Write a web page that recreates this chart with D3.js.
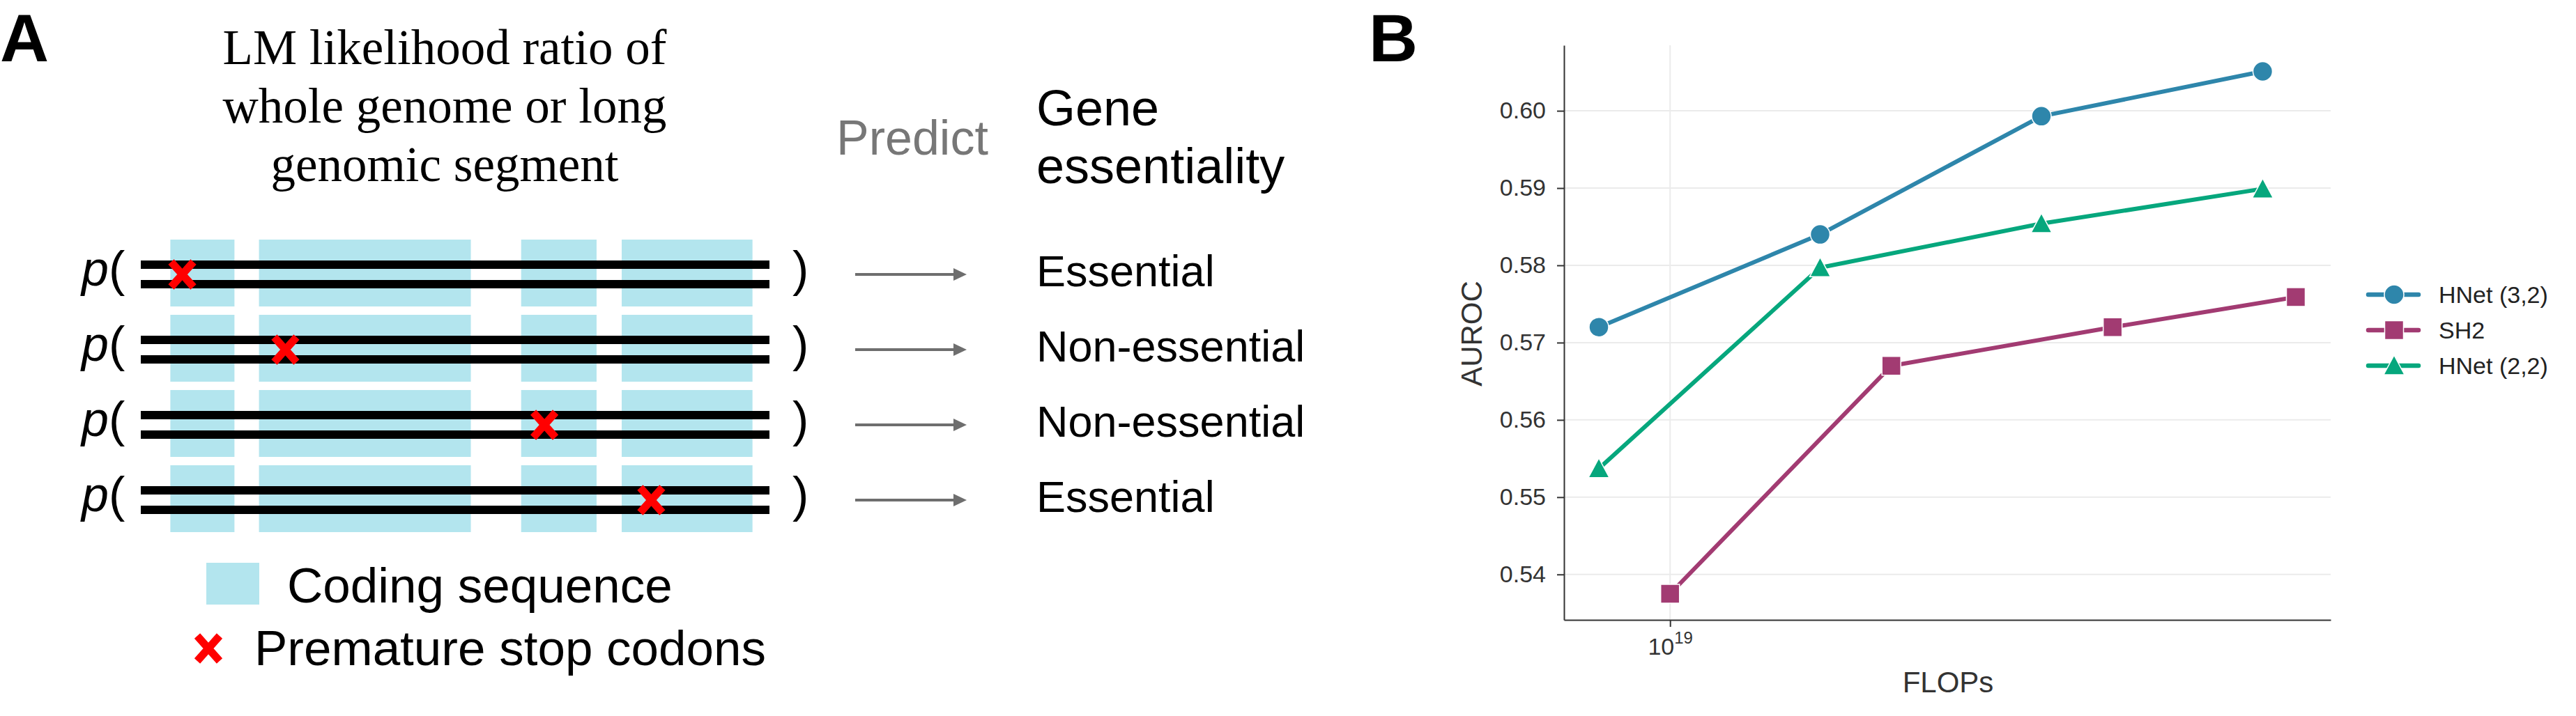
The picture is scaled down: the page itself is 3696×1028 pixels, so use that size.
<!DOCTYPE html>
<html>
<head>
<meta charset="utf-8">
<script src="https://cdn.jsdelivr.net/npm/d3@7"></script>
<style>
  body { margin: 0; background: #fff; }
  svg { display: block; font-family: "Liberation Sans", Arial, sans-serif; }
</style>
</head>
<body>
<div class="figure"></div>
<script>
const WIDTH = 3696;
const HEIGHT = 1028;

// panel A
var titleLines = ['LM likelihood ratio of', 'whole genome or long', 'genomic segment'];
var codingSegments = [[4.7, 14.9], [18.8, 52.5], [60.5, 72.5], [76.5, 97.3]];
var stopPositions = [6.6, 23.0, 64.2, 81.2];
var essentiality = ['Essential', 'Non-essential', 'Non-essential', 'Essential'];

// panel B
var seriesNames = ['HNet (3,2)', 'SH2', 'HNet (2,2)'];
var flopsHNet32 = [8e18, 1.6e19, 3.2e19, 6.4e19];
var aurocHNet32 = [0.572, 0.584, 0.5993, 0.6051];
var flopsSH2 = [1e19, 2e19, 4e19, 7.1e19];
var aurocSH2 = [0.5375, 0.567, 0.572, 0.5759];
var flopsHNet22 = [8e18, 1.6e19, 3.2e19, 6.4e19];
var aurocHNet22 = [0.5537, 0.5797, 0.5854, 0.5899];
var yTicks = [0.54, 0.55, 0.56, 0.57, 0.58, 0.59, 0.60];
var xTicks = [1e19];

var colors = ['#2e86ab', '#a23b72', '#06a77d'];
var shapes = ['circle', 'square', 'triangle'];

var svg = d3.select('.figure').append('svg')
    .attr('width', WIDTH)
    .attr('height', HEIGHT);
svg.append('rect').attr('width', WIDTH).attr('height', HEIGHT).attr('fill', '#fff');

// ---------- panel A ----------
var genomeScale = d3.scaleLinear().domain([0, 100]).range([202, 1104]);
var rowScale = d3.scalePoint().domain(d3.range(essentiality.length)).range([394, 718]);

function drawCross(g, cx, cy) {
    g.append('path')
        .attr('d', 'M' + (cx - 16) + ',' + (cy - 18) + 'L' + (cx + 16) + ',' + (cy + 18) +
            'M' + (cx + 16) + ',' + (cy - 18) + 'L' + (cx - 16) + ',' + (cy + 18))
        .attr('stroke', '#ff0000')
        .attr('stroke-width', 11)
        .attr('fill', 'none');
}

function drawPanelA() {
    var g = svg.append('g');

    g.append('text').attr('x', 0).attr('y', 88)
        .attr('font-size', 97).attr('font-weight', 'bold').text('A');

    g.selectAll('.title').data(titleLines).enter().append('text')
        .attr('x', 638)
        .attr('y', function (d, i) { return 92 + i * 84; })
        .attr('text-anchor', 'middle')
        .attr('font-family', '"Liberation Serif", "DejaVu Serif", serif')
        .attr('font-size', 71)
        .text(function (d) { return d; });

    g.append('text').attr('x', 1200).attr('y', 222)
        .attr('font-size', 70).attr('fill', '#777').text('Predict');
    g.append('text').attr('x', 1487).attr('y', 180).attr('font-size', 72).text('Gene');
    g.append('text').attr('x', 1487).attr('y', 263).attr('font-size', 72).text('essentiality');

    var rows = g.selectAll('.row').data(essentiality).enter().append('g')
        .attr('class', 'row');

    rows.each(function (label, i) {
        var row = d3.select(this);
        var cy = rowScale(i);

        row.selectAll('rect').data(codingSegments).enter().append('rect')
            .attr('x', function (d) { return genomeScale(d[0]); })
            .attr('width', function (d) { return genomeScale(d[1]) - genomeScale(d[0]); })
            .attr('y', cy - 50)
            .attr('height', 96)
            .attr('fill', '#b3e5ee');

        [-14, 14].forEach(function (off) {
            row.append('rect')
                .attr('x', genomeScale(0))
                .attr('width', genomeScale(100) - genomeScale(0))
                .attr('y', cy + off - 6)
                .attr('height', 12)
                .attr('fill', '#000');
        });

        drawCross(row, genomeScale(stopPositions[i]), cy);

        var p = row.append('text').attr('x', 117).attr('y', cy + 16).attr('font-size', 70);
        p.append('tspan').attr('font-style', 'italic').text('p');
        p.append('tspan').text('(');
        row.append('text').attr('x', 1137).attr('y', cy + 16).attr('font-size', 70).text(')');

        row.append('line')
            .attr('x1', 1227).attr('x2', 1372)
            .attr('y1', cy).attr('y2', cy)
            .attr('stroke', '#6e6e6e').attr('stroke-width', 4);
        row.append('path')
            .attr('d', 'M1368,' + (cy - 9) + 'L1387,' + cy + 'L1368,' + (cy + 9) + 'Z')
            .attr('fill', '#6e6e6e');

        row.append('text').attr('x', 1487).attr('y', cy + 17)
            .attr('font-size', 63).text(label);
    });

    g.append('rect').attr('x', 296).attr('y', 808).attr('width', 76).attr('height', 60)
        .attr('fill', '#b3e5ee');
    g.append('text').attr('x', 412).attr('y', 865).attr('font-size', 71).text('Coding sequence');
    drawCross(g, 299, 931);
    g.append('text').attr('x', 365).attr('y', 955).attr('font-size', 71).text('Premature stop codons');
}

// ---------- panel B ----------
function padLog(vals) {
    var lo = Math.log10(d3.min(vals));
    var hi = Math.log10(d3.max(vals));
    var p = (hi - lo) * 0.05;
    return [Math.pow(10, lo - p), Math.pow(10, hi + p)];
}

function padLinear(vals) {
    var lo = d3.min(vals);
    var hi = d3.max(vals);
    var p = (hi - lo) * 0.05;
    return [lo - p, hi + p];
}

var allFlops = flopsHNet32.concat(flopsSH2, flopsHNet22);
var allAuroc = aurocHNet32.concat(aurocSH2, aurocHNet22);

var xScale = d3.scaleLog().domain(padLog(allFlops)).range([2244, 3344]);
var yScale = d3.scaleLinear().domain(padLinear(allAuroc)).range([890, 65]);

var series = [
    { name: seriesNames[0], x: flopsHNet32, y: aurocHNet32 },
    { name: seriesNames[1], x: flopsSH2, y: aurocSH2 },
    { name: seriesNames[2], x: flopsHNet22, y: aurocHNet22 }
];

function drawMarker(g, shape, color, cx, cy) {
    if (shape === 'circle') {
        g.append('circle').attr('cx', cx).attr('cy', cy).attr('r', 14)
            .attr('fill', color).attr('stroke', '#fff').attr('stroke-width', 1.5);
    } else if (shape === 'square') {
        g.append('rect').attr('x', cx - 13.5).attr('y', cy - 13.5).attr('width', 27).attr('height', 27)
            .attr('fill', color).attr('stroke', '#fff').attr('stroke-width', 1.5);
    } else {
        g.append('path')
            .attr('d', 'M' + cx + ',' + (cy - 15) + 'L' + (cx + 15) + ',' + (cy + 13) + 'L' + (cx - 15) + ',' + (cy + 13) + 'Z')
            .attr('fill', color).attr('stroke', '#fff').attr('stroke-width', 1.5);
    }
}

function drawPanelB() {
    var g = svg.append('g');

    g.append('text').attr('x', 1964).attr('y', 88)
        .attr('font-size', 97).attr('font-weight', 'bold').text('B');

    var grid = g.append('g');
    grid.selectAll('.hgrid').data(yTicks).enter().append('line')
        .attr('x1', xScale.range()[0]).attr('x2', xScale.range()[1])
        .attr('y1', function (d) { return yScale(d); })
        .attr('y2', function (d) { return yScale(d); })
        .attr('stroke', '#ebebeb').attr('stroke-width', 2);
    grid.selectAll('.vgrid').data(xTicks).enter().append('line')
        .attr('x1', function (d) { return xScale(d); })
        .attr('x2', function (d) { return xScale(d); })
        .attr('y1', yScale.range()[1]).attr('y2', yScale.range()[0])
        .attr('stroke', '#ebebeb').attr('stroke-width', 2);

    var yAxis = d3.axisLeft(yScale).tickValues(yTicks).tickFormat(d3.format('.2f'))
        .tickSize(10).tickSizeOuter(0).tickPadding(16);
    var yAxisG = g.append('g').attr('transform', 'translate(' + xScale.range()[0] + ',0)').call(yAxis);

    var xAxis = d3.axisBottom(xScale).tickValues(xTicks).tickSize(10).tickSizeOuter(0);
    var xAxisG = g.append('g').attr('transform', 'translate(0,' + yScale.range()[0] + ')').call(xAxis);

    [yAxisG, xAxisG].forEach(function (ax) {
        ax.select('.domain').attr('stroke', '#333').attr('stroke-width', 2);
        ax.selectAll('.tick line').attr('stroke', '#333').attr('stroke-width', 2);
        ax.selectAll('.tick text').attr('fill', '#333').attr('font-size', 34)
            .attr('font-family', '"Liberation Sans", Arial, sans-serif');
    });

    xAxisG.selectAll('.tick text').text(null).attr('y', 50).attr('dy', null)
        .each(function () {
            var t = d3.select(this);
            t.append('tspan').text('10');
            t.append('tspan').attr('dy', -16).attr('font-size', 24).text('19');
        });

    g.append('text')
        .attr('transform', 'translate(2126,479) rotate(-90)')
        .attr('text-anchor', 'middle')
        .attr('font-size', 42).attr('fill', '#333').text('AUROC');
    g.append('text').attr('x', 2795).attr('y', 994)
        .attr('text-anchor', 'middle')
        .attr('font-size', 42).attr('fill', '#333').text('FLOPs');

    var line = d3.line()
        .x(function (d) { return xScale(d[0]); })
        .y(function (d) { return yScale(d[1]); });

    series.forEach(function (s, i) {
        var pts = d3.zip(s.x, s.y);
        var sg = g.append('g');
        sg.append('path').attr('d', line(pts))
            .attr('fill', 'none').attr('stroke', colors[i]).attr('stroke-width', 6)
            .attr('stroke-linejoin', 'round');
        pts.forEach(function (p) {
            drawMarker(sg, shapes[i], colors[i], xScale(p[0]), yScale(p[1]));
        });
    });

    var legend = g.append('g');
    series.forEach(function (s, i) {
        var ly = 423 + i * 51;
        legend.append('line').attr('x1', 3398).attr('x2', 3470).attr('y1', ly).attr('y2', ly)
            .attr('stroke', colors[i]).attr('stroke-width', 6.5).attr('stroke-linecap', 'round');
        drawMarker(legend, shapes[i], colors[i], 3435, ly);
        legend.append('text').attr('x', 3499).attr('y', ly + 12)
            .attr('font-size', 34).attr('fill', '#222').text(s.name);
    });
}

drawPanelA();
drawPanelB();
</script>
</body>
</html>
